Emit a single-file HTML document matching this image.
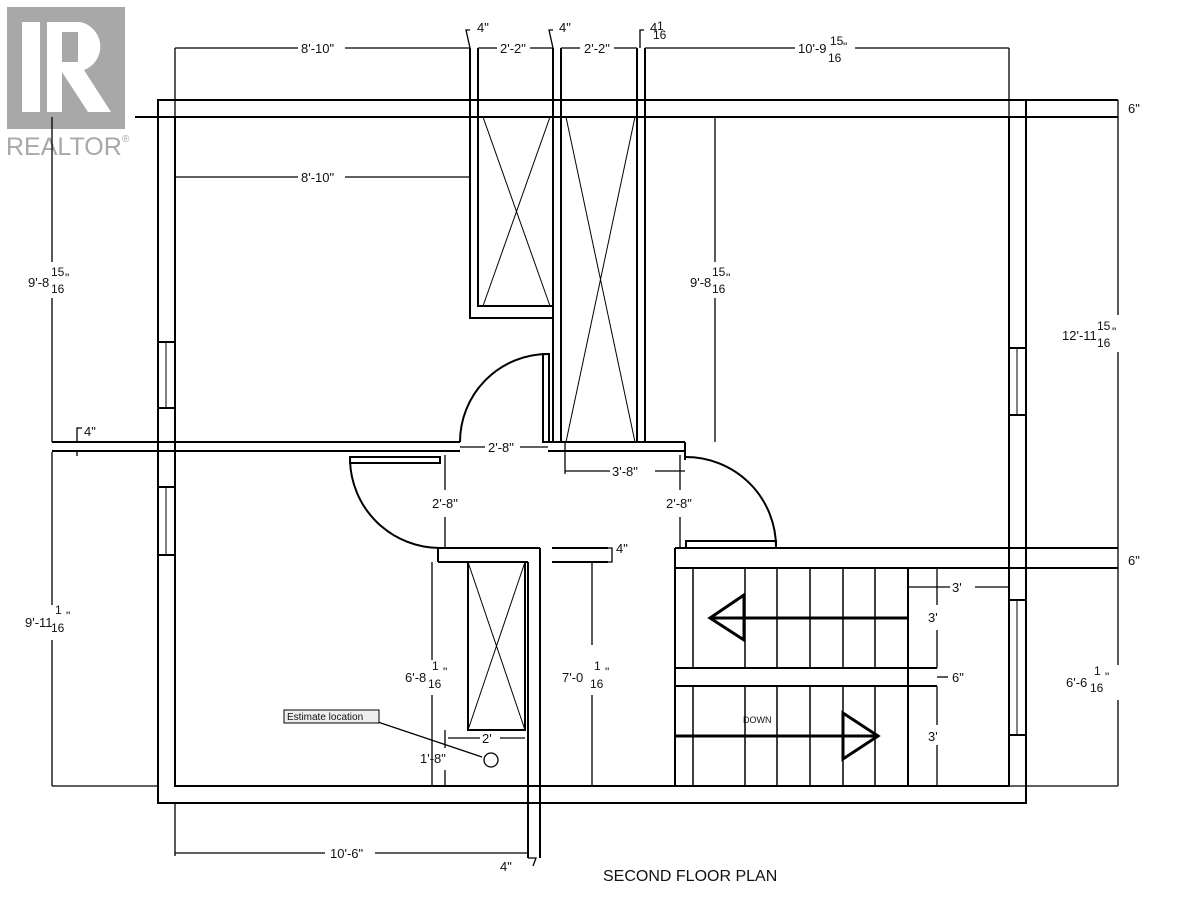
<!DOCTYPE html>
<html><head><meta charset="utf-8"><style>
html,body{margin:0;padding:0;background:#fff;}
svg{display:block;}
text{font-family:"Liberation Sans",sans-serif;fill:#111;}
</style></head><body>
<svg width="1183" height="900" viewBox="0 0 1183 900" xmlns="http://www.w3.org/2000/svg">
<!-- Realtor logo -->
<rect x="7" y="7" width="118" height="122" fill="#a8a8a8"/>
<rect x="22" y="22" width="18" height="90" fill="#fff"/>
<path d="M47 22 H80 A25 25 0 0 1 84 70 L111 112 H88 L62 72 V112 H47 Z" fill="#fff"/>
<rect x="62" y="32" width="16" height="30" fill="#a8a8a8"/>
<text x="6" y="155" font-size="25" style="fill:#a8a8a8">REALTOR</text>
<text x="122" y="142" font-size="10" style="fill:#a8a8a8">®</text>

<g stroke="#000" fill="none" stroke-width="2">
<rect x="158" y="100" width="868" height="703"/>
<polyline points="175,117 175,786 1009,786 1009,117"/>
<line x1="135" y1="117" x2="1118" y2="117"/>
<line x1="1026" y1="100" x2="1118" y2="100"/>
<polyline points="470,48 470,318 553,318"/>
<polyline points="478,48 478,306 553,306"/>
<line x1="483" y1="117" x2="550" y2="306" stroke-width="1"/>
<line x1="550" y1="117" x2="483" y2="306" stroke-width="1"/>
<line x1="553" y1="48" x2="553" y2="442"/>
<line x1="561" y1="48" x2="561" y2="442"/>
<line x1="637" y1="48" x2="637" y2="442"/>
<line x1="645" y1="48" x2="645" y2="442"/>
<line x1="566" y1="117" x2="635" y2="442" stroke-width="1"/>
<line x1="635" y1="117" x2="566" y2="442" stroke-width="1"/>
<line x1="52" y1="442" x2="460" y2="442"/>
<line x1="52" y1="451" x2="460" y2="451"/>
<line x1="548" y1="442" x2="685" y2="442"/>
<line x1="548" y1="451" x2="685" y2="451"/>
<line x1="685" y1="442" x2="685" y2="460"/>
<rect x="543" y="354" width="6" height="88"/>
<path d="M548 354 A88 88 0 0 0 460 442"/>
<rect x="350" y="457" width="90" height="6"/>
<path d="M350 460 A90 90 0 0 0 440 548"/>
<rect x="686" y="541" width="90" height="7"/>
<path d="M686 457 A90 90 0 0 1 776 548"/>
<polyline points="438,548 540,548"/>
<line x1="438" y1="548" x2="438" y2="562"/>
<polyline points="438,562 528,562"/>
<line x1="528" y1="562" x2="528" y2="858"/>
<line x1="540" y1="548" x2="540" y2="858"/>
<line x1="552" y1="562" x2="608" y2="562"/>
<line x1="552" y1="548" x2="608" y2="548"/>
<rect x="468" y="562" width="57" height="168"/>
<line x1="468" y1="562" x2="525" y2="730" stroke-width="1"/>
<line x1="525" y1="562" x2="468" y2="730" stroke-width="1"/>
<line x1="675" y1="548" x2="675" y2="786"/>
<line x1="675" y1="548" x2="1118" y2="548"/>
<line x1="675" y1="568" x2="1118" y2="568"/>
<line x1="908" y1="568" x2="908" y2="786"/>
<line x1="675" y1="668" x2="937" y2="668"/>
<line x1="675" y1="686" x2="937" y2="686"/>
<g stroke-width="1.5">
<line x1="693" y1="568" x2="693" y2="668"/><line x1="745" y1="568" x2="745" y2="668"/>
<line x1="777" y1="568" x2="777" y2="668"/><line x1="810" y1="568" x2="810" y2="668"/>
<line x1="843" y1="568" x2="843" y2="668"/><line x1="875" y1="568" x2="875" y2="668"/>
<line x1="693" y1="686" x2="693" y2="786"/><line x1="745" y1="686" x2="745" y2="786"/>
<line x1="777" y1="686" x2="777" y2="786"/><line x1="810" y1="686" x2="810" y2="786"/>
<line x1="843" y1="686" x2="843" y2="786"/><line x1="875" y1="686" x2="875" y2="786"/>
</g>
<line x1="710" y1="618" x2="908" y2="618" stroke-width="3"/>
<polygon points="710,618 744,595 744,640" stroke-width="3"/>
<line x1="675" y1="736" x2="875" y2="736" stroke-width="3"/>
<polygon points="878,736 843,713 843,759" stroke-width="3"/>
<rect x="158" y="342" width="17" height="66"/><line x1="166" y1="342" x2="166" y2="408" stroke-width="1"/>
<rect x="158" y="487" width="17" height="68"/><line x1="166" y1="487" x2="166" y2="555" stroke-width="1"/>
<rect x="1009" y="348" width="17" height="67"/><line x1="1017" y1="348" x2="1017" y2="415" stroke-width="1"/>
<rect x="1009" y="600" width="17" height="135"/><line x1="1017" y1="600" x2="1017" y2="735" stroke-width="1"/>
</g>

<g stroke="#000" fill="none" stroke-width="1.3">
<line x1="175" y1="48" x2="298" y2="48"/><line x1="345" y1="48" x2="470" y2="48"/>
<line x1="175" y1="48" x2="175" y2="180"/>
<line x1="175" y1="177" x2="298" y2="177"/><line x1="345" y1="177" x2="470" y2="177"/>
<line x1="478" y1="48" x2="497" y2="48"/><line x1="530" y1="48" x2="553" y2="48"/>
<line x1="561" y1="48" x2="580" y2="48"/><line x1="614" y1="48" x2="637" y2="48"/>
<line x1="645" y1="48" x2="795" y2="48"/><line x1="855" y1="48" x2="1009" y2="48"/>
<line x1="1009" y1="48" x2="1009" y2="117"/>
<polyline points="470,30 466,30 470,48"/><polyline points="553,30 549,30 553,48"/><polyline points="644,30 640,30 640,48"/>
<line x1="52" y1="117" x2="52" y2="262"/><line x1="52" y1="298" x2="52" y2="442"/>
<line x1="52" y1="452" x2="52" y2="605"/><line x1="52" y1="640" x2="52" y2="786"/>
<line x1="52" y1="786" x2="158" y2="786"/>
<polyline points="77,442 77,428 82,428"/><line x1="77" y1="451" x2="77" y2="456"/>
<line x1="715" y1="117" x2="715" y2="262"/><line x1="715" y1="298" x2="715" y2="442"/>
<line x1="645" y1="117" x2="715" y2="117"/>
<line x1="1118" y1="100" x2="1118" y2="117"/>
<line x1="1118" y1="117" x2="1118" y2="315"/><line x1="1118" y1="352" x2="1118" y2="548"/>
<line x1="1118" y1="548" x2="1118" y2="568"/>
<line x1="1118" y1="568" x2="1118" y2="665"/><line x1="1118" y1="700" x2="1118" y2="786"/>
<line x1="1009" y1="786" x2="1118" y2="786"/>
<line x1="460" y1="447" x2="485" y2="447"/><line x1="520" y1="447" x2="548" y2="447"/>
<line x1="565" y1="442" x2="565" y2="474"/><line x1="565" y1="471" x2="610" y2="471"/><line x1="655" y1="471" x2="685" y2="471"/>
<line x1="445" y1="455" x2="445" y2="490"/><line x1="445" y1="517" x2="445" y2="548"/>
<line x1="680" y1="455" x2="680" y2="490"/><line x1="680" y1="517" x2="680" y2="548"/>
<line x1="592" y1="562" x2="592" y2="645"/><line x1="592" y1="695" x2="592" y2="786"/>
<line x1="575" y1="786" x2="610" y2="786"/>
<polyline points="608,548 612,548 612,562 608,562"/>
<line x1="432" y1="562" x2="432" y2="660"/><line x1="432" y1="695" x2="432" y2="786"/>
<line x1="422" y1="786" x2="470" y2="786"/>
<line x1="445" y1="730" x2="445" y2="748"/><line x1="445" y1="770" x2="445" y2="786"/>
<line x1="448" y1="738" x2="480" y2="738"/><line x1="500" y1="738" x2="525" y2="738"/>
<line x1="175" y1="803" x2="175" y2="856"/>
<line x1="175" y1="853" x2="325" y2="853"/><line x1="375" y1="853" x2="528" y2="853"/>
<polyline points="528,858 536,858 533,866"/>
<line x1="908" y1="587" x2="950" y2="587"/><line x1="975" y1="587" x2="1009" y2="587"/>
<line x1="937" y1="568" x2="937" y2="605"/><line x1="937" y1="630" x2="937" y2="668"/>
<line x1="937" y1="686" x2="937" y2="725"/><line x1="937" y1="745" x2="937" y2="786"/>
<line x1="937" y1="677" x2="948" y2="677"/>
<line x1="378" y1="722" x2="482" y2="757"/>
</g>
<circle cx="491" cy="760" r="7" stroke="#000" fill="none" stroke-width="1.3"/>

<g font-size="13">
<text x="301" y="53">8'-10"</text>
<text x="301" y="182">8'-10"</text>
<text x="477" y="32">4"</text>
<text x="500" y="53">2'-2"</text>
<text x="559" y="32">4"</text>
<text x="584" y="53">2'-2"</text>
<text x="650" y="32">4</text>
<text x="798" y="53">10'-9</text>
<text x="1128" y="113">6"</text>
<text x="1128" y="565">6"</text>
<text x="84" y="436">4"</text>
<text x="488" y="452">2'-8"</text>
<text x="612" y="476">3'-8"</text>
<text x="432" y="508">2'-8"</text>
<text x="666" y="508">2'-8"</text>
<text x="616" y="553">4"</text>
<text x="28" y="287">9'-8</text>
<text x="690" y="287">9'-8</text>
<text x="1062" y="340">12'-11</text>
<text x="25" y="627">9'-11</text>
<text x="405" y="682">6'-8</text>
<text x="562" y="682">7'-0</text>
<text x="1066" y="687">6'-6</text>
<text x="482" y="743">2'</text>
<text x="420" y="763">1'-8"</text>
<text x="952" y="592">3'</text>
<text x="928" y="622">3'</text>
<text x="952" y="682">6"</text>
<text x="928" y="741">3'</text>
<text x="500" y="871">4"</text>
<text x="330" y="858">10'-6"</text>
</g>
<g font-size="12">
<text x="657" y="30">1</text><text x="653" y="39">16</text>
<text x="830" y="45">15</text><text x="828" y="62">16</text><text x="843" y="51">"</text>
<text x="51" y="276">15</text><text x="51" y="293">16</text><text x="65" y="282">"</text>
<text x="712" y="276">15</text><text x="712" y="293">16</text><text x="726" y="282">"</text>
<text x="1097" y="330">15</text><text x="1097" y="347">16</text><text x="1112" y="336">"</text>
<text x="55" y="614">1</text><text x="51" y="632">16</text><text x="66" y="620">"</text>
<text x="432" y="670">1</text><text x="428" y="688">16</text><text x="443" y="676">"</text>
<text x="594" y="670">1</text><text x="590" y="688">16</text><text x="605" y="676">"</text>
<text x="1094" y="675">1</text><text x="1090" y="692">16</text><text x="1105" y="681">"</text>
</g>
<text x="743" y="723" font-size="9">DOWN</text>
<rect x="284" y="710" width="95" height="13" fill="#eee" stroke="#000" stroke-width="1"/>
<text x="287" y="720" font-size="10">Estimate location</text>
<text x="603" y="881" font-size="16">SECOND FLOOR PLAN</text>
</svg>
</body></html>
